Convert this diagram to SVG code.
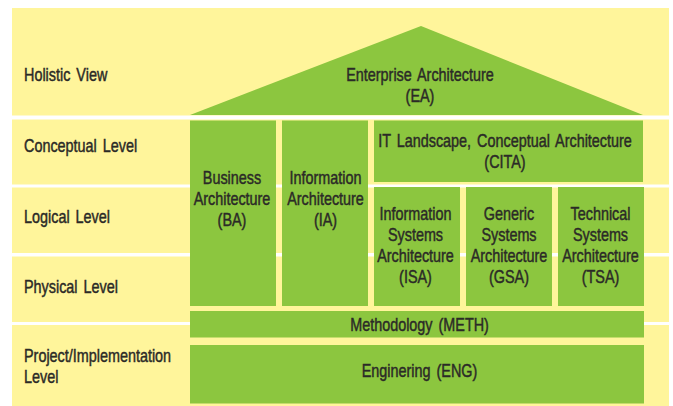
<svg xmlns="http://www.w3.org/2000/svg" width="673" height="406" viewBox="0 0 673 406">
  <style>
    .bg { fill: #fff59b; }
    .sep { fill: #ffffff; }
    .box { fill: #8cc63f; }
    /* narrow sans: Liberation Sans squeezed horizontally by each text's transform */
    .t { font-family: "Liberation Sans", Arial, sans-serif; font-size: 18px; word-spacing: 2.5px; fill: #2b2a27; stroke: #2b2a27; stroke-width: 0.45px; }
    .c { text-anchor: middle; }
  </style>

  <!-- page background -->
  <rect width="673" height="406" fill="#ffffff"/>
  <rect class="bg" x="12" y="8" width="657" height="398"/>

  <!-- white strips dividing the levels -->
  <g id="level-dividers">
    <rect class="sep" x="12" y="115.5" width="657" height="4"/>
    <rect class="sep" x="12" y="184.5" width="657" height="3"/>
    <rect class="sep" x="12" y="253" width="657" height="3.5"/>
    <rect class="sep" x="12" y="322" width="657" height="3"/>
  </g>

  <!-- level labels -->
  <g id="level-holistic"><text class="t" transform="matrix(0.8 0 0 1 24 81)">Holistic View</text></g>
  <g id="level-conceptual"><text class="t" transform="matrix(0.8 0 0 1 24 151.5)">Conceptual Level</text></g>
  <g id="level-logical"><text class="t" transform="matrix(0.8 0 0 1 24 223)">Logical Level</text></g>
  <g id="level-physical"><text class="t" transform="matrix(0.8 0 0 1 24 292.5)">Physical Level</text></g>
  <g id="level-project">
    <text class="t" transform="matrix(0.8 0 0 1 24 362)">Project/Implementation</text>
    <text class="t" transform="matrix(0.8 0 0 1 24 383)">Level</text>
  </g>

  <!-- roof -->
  <g id="node-ea">
    <polygon class="box" points="190,115 421,26 643,115"/>
    <text class="t c" transform="matrix(0.8 0 0 1 420 80.5)">Enterprise Architecture</text>
    <text class="t c" transform="matrix(0.8 0 0 1 420 101.5)">(EA)</text>
  </g>

  <!-- pillars -->
  <g id="node-ba">
    <rect class="box" x="190" y="120.5" width="86" height="185.5"/>
    <text class="t c" transform="matrix(0.8 0 0 1 232 183.5)">Business</text>
    <text class="t c" transform="matrix(0.8 0 0 1 232 204.5)">Architecture</text>
    <text class="t c" transform="matrix(0.8 0 0 1 232 225.5)">(BA)</text>
  </g>

  <g id="node-ia">
    <rect class="box" x="282" y="120.5" width="86" height="185.5"/>
    <text class="t c" transform="matrix(0.8 0 0 1 325.5 183.5)">Information</text>
    <text class="t c" transform="matrix(0.8 0 0 1 325.5 204.5)">Architecture</text>
    <text class="t c" transform="matrix(0.8 0 0 1 325.5 225.5)">(IA)</text>
  </g>

  <g id="node-cita">
    <rect class="box" x="374" y="120.5" width="269" height="61.5"/>
    <text class="t c" transform="matrix(0.8 0 0 1 505 146.5)">IT Landscape, Conceptual Architecture</text>
    <text class="t c" transform="matrix(0.8 0 0 1 505 167.5)">(CITA)</text>
  </g>

  <g id="node-isa">
    <rect class="box" x="374" y="187" width="86" height="119"/>
    <text class="t c" transform="matrix(0.8 0 0 1 415.5 220)">Information</text>
    <text class="t c" transform="matrix(0.8 0 0 1 415.5 241)">Systems</text>
    <text class="t c" transform="matrix(0.8 0 0 1 415.5 262)">Architecture</text>
    <text class="t c" transform="matrix(0.8 0 0 1 415.5 283)">(ISA)</text>
  </g>

  <g id="node-gsa">
    <rect class="box" x="466" y="187" width="86" height="119"/>
    <text class="t c" transform="matrix(0.8 0 0 1 509 220)">Generic</text>
    <text class="t c" transform="matrix(0.8 0 0 1 509 241)">Systems</text>
    <text class="t c" transform="matrix(0.8 0 0 1 509 262)">Architecture</text>
    <text class="t c" transform="matrix(0.8 0 0 1 509 283)">(GSA)</text>
  </g>

  <g id="node-tsa">
    <rect class="box" x="558" y="187" width="86" height="119"/>
    <text class="t c" transform="matrix(0.8 0 0 1 600.5 220)">Technical</text>
    <text class="t c" transform="matrix(0.8 0 0 1 600.5 241)">Systems</text>
    <text class="t c" transform="matrix(0.8 0 0 1 600.5 262)">Architecture</text>
    <text class="t c" transform="matrix(0.8 0 0 1 600.5 283)">(TSA)</text>
  </g>

  <!-- foundation -->
  <g id="node-meth">
    <rect class="box" x="190" y="311" width="454" height="26.5"/>
    <text class="t c" transform="matrix(0.8 0 0 1 419.5 330.5)">Methodology (METH)</text>
  </g>

  <g id="node-eng">
    <rect class="box" x="190" y="345" width="454" height="58.5"/>
    <text class="t c" transform="matrix(0.8 0 0 1 419.5 377)">Enginering (ENG)</text>
  </g>
</svg>
